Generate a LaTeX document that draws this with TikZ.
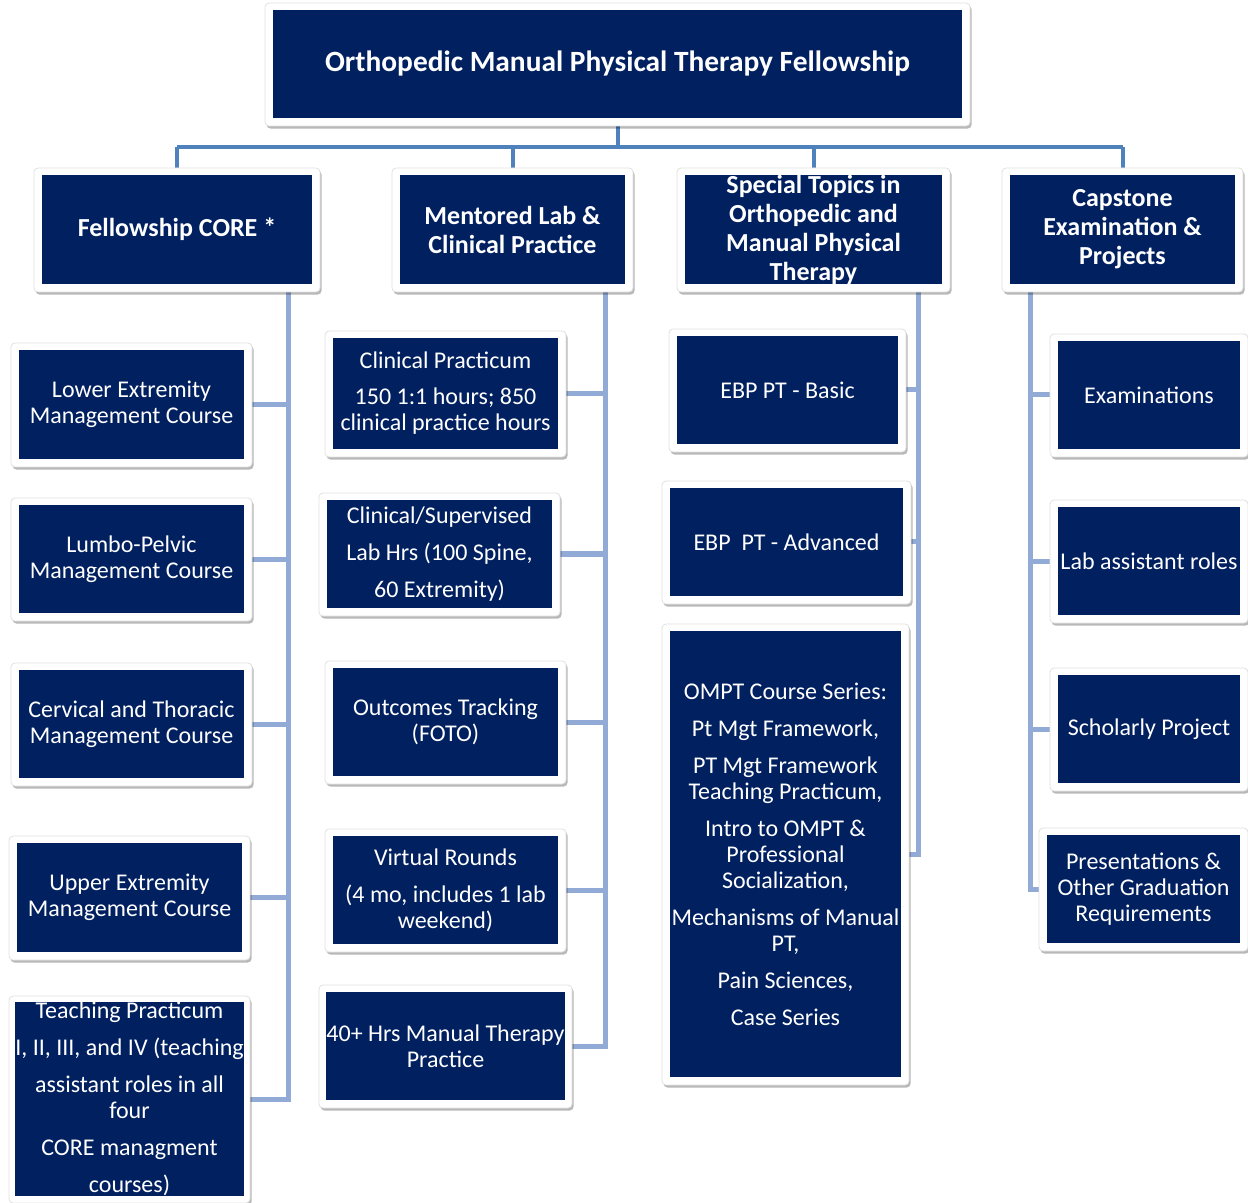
\documentclass[tikz,border=0pt]{standalone}
\usepackage{fontspec}
\setmainfont{Carlito}
\usetikzlibrary{shadows}
\pgfdeclarelayer{background}
\pgfsetlayers{background,main}
\definecolor{navy}{HTML}{002060}
\definecolor{topblue}{HTML}{4F81BD}
\definecolor{subblue}{HTML}{92AAD6}
\tikzset{
  frame/.style={fill=white, draw=black!12, line width=0.4pt, rounded corners=2pt,
    drop shadow={shadow xshift=0.8pt, shadow yshift=-1.3pt, fill=black, opacity=0.28}},
  navybox/.style={fill=navy, text=white, inner sep=0pt, outer sep=0pt, align=center,
    font=\fontsize{12}{13}\selectfont},
  headbox/.style={navybox, font=\fontsize{13}{14.5}\selectfont\bfseries},
  titlebox/.style={navybox, font=\fontsize{14.7}{16}\selectfont\bfseries},
  topline/.style={draw=topblue, line width=2pt},
  subline/.style={draw=subblue, line width=2.5pt},
}
% name, x1, y1, x2, y2, style, text
\newcommand\obox[7]{%
  \path[frame] ({#2-8},{#3-7}) rectangle ({#4+8},{#5+8});
  \node[#6, minimum width={(#4-#2)*0.5pt}, minimum height={(#5-#3)*0.5pt}]
    (#1) at ({(#2+#4)/2},{(#3+#5)/2}) {#7};
}
\begin{document}
\begin{tikzpicture}[x=0.5pt,y=-0.5pt]
\useasboundingbox (0,0) rectangle (1248,1203);

% top
\obox{title}{273}{10}{962}{118}{titlebox}{Orthopedic Manual Physical Therapy Fellowship}

% level 1
\obox{core}{42}{175}{312}{284}{headbox}{Fellowship CORE *}
\obox{lab}{400}{175}{625}{284}{headbox}{Mentored Lab \&\\Clinical Practice}
\obox{topics}{685}{175}{942}{284}{headbox}{Special Topics in\\Orthopedic and\\Manual Physical\\Therapy}
\obox{cap}{1010}{175}{1235}{284}{headbox}{Capstone\\Examination \&\\Projects}

% column 1
\obox{le}{19}{350}{244}{459}{navybox}{Lower Extremity\\Management Course}
\obox{lp}{19}{505}{244}{613}{navybox}{Lumbo-Pelvic\\Management Course}
\obox{ct}{19}{670}{244}{778}{navybox}{Cervical and Thoracic\\Management Course}
\obox{ue}{17}{843}{242}{952}{navybox}{Upper Extremity\\Management Course}
\obox{tp}{17}{1003}{242}{1195}{navybox}{Teaching Practicum\\[5.5pt]I, II, III, and IV (teaching\\[5.5pt]assistant roles in all\\four\\[5.5pt]CORE managment\\[5.5pt]courses)}

% column 2
\obox{cp}{333}{338}{558}{449}{navybox}{Clinical Practicum\\[5pt]150 1:1 hours; 850\\clinical practice hours}
\obox{cs}{327}{500}{552}{608}{navybox}{Clinical/Supervised\\[5.5pt]Lab Hrs (100 Spine,\\[5.5pt]60 Extremity)}
\obox{ot}{333}{668}{558}{776}{navybox}{Outcomes Tracking\\(FOTO)}
\obox{vr}{333}{836}{558}{944}{navybox}{Virtual Rounds\\[5.5pt](4 mo, includes 1 lab\\weekend)}
\obox{mt}{327}{992}{564}{1100}{navybox}{40+ Hrs Manual Therapy\\Practice}

% column 3
\obox{ebpb}{677}{336}{898}{444}{navybox}{EBP PT - Basic}
\obox{ebpa}{670}{488}{903}{596}{navybox}{EBP\ \ PT - Advanced}
\obox{ompt}{670}{631}{901}{1077}{navybox}{OMPT Course Series:\\[5.5pt]Pt Mgt Framework,\\[5.5pt]PT Mgt Framework\\Teaching Practicum,\\[5.5pt]Intro to OMPT \&\\Professional\\Socialization,\\[5.5pt]Mechanisms of Manual\\PT,\\[5.5pt]Pain Sciences,\\[5.5pt]Case Series}

% column 4
\obox{exam}{1058}{341}{1240}{449}{navybox}{Examinations}
\obox{la}{1058}{507}{1240}{615}{navybox}{Lab assistant roles}
\obox{sp}{1058}{675}{1240}{783}{navybox}{Scholarly Project}
\obox{pres}{1047}{835}{1240}{943}{navybox}{Presentations \&\\Other Graduation\\Requirements}

% connectors
\coordinate (bus) at (0,147);
\coordinate (c1) at (288,0);
\coordinate (c2) at (605,0);
\coordinate (c3) at (918,0);
\coordinate (c4) at (1030,0);
\begin{pgfonlayer}{background}
  \draw[topline] (title.south) -- (title.south |- bus);
  \draw[topline] (core.north |- bus) -- (cap.north |- bus);
  \foreach \n in {core,lab,topics,cap} \draw[topline] (\n.north |- bus) -- (\n.north);
  % column 1
  \draw[subline] (c1 |- core.south) |- (tp.east);
  \foreach \n in {le,lp,ct,ue} \draw[subline] (c1 |- \n.east) -- (\n.east);
  % column 2
  \draw[subline] (c2 |- lab.south) |- (mt.east);
  \foreach \n in {cp,cs,ot,vr} \draw[subline] (c2 |- \n.east) -- (\n.east);
  % column 3
  \draw[subline] (c3 |- topics.south) |- (ompt.east);
  \foreach \n in {ebpb,ebpa} \draw[subline] (c3 |- \n.east) -- (\n.east);
  % column 4
  \draw[subline] (c4 |- cap.south) |- (pres.west);
  \foreach \n in {exam,la,sp} \draw[subline] (c4 |- \n.west) -- (\n.west);
\end{pgfonlayer}
\end{tikzpicture}
\end{document}
